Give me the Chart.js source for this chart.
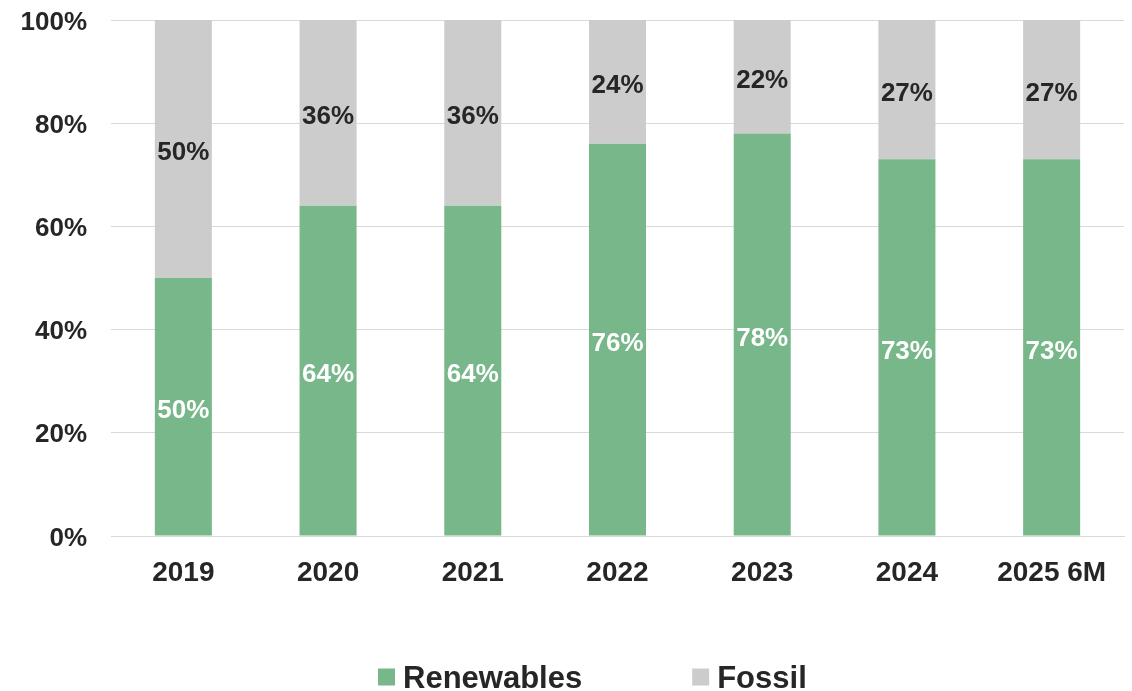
<!DOCTYPE html>
<html>
<head>
<meta charset="utf-8">
<script src="https://cdn.jsdelivr.net/npm/chart.js@4.4.1/dist/chart.umd.min.js"></script>
<style>
  html, body { margin: 0; padding: 0; background: #fff; }
  #wrap { width: 1132px; height: 691px; position: relative; }
</style>
</head>
<body>
<div id="wrap"><canvas id="shareChart"></canvas></div>
<script>
'use strict';

const years = ['2019', '2020', '2021', '2022', '2023', '2024', '2025 6M'];
const renewables = [50, 64, 64, 76, 78, 73, 73];
const fossil = [50, 36, 36, 24, 22, 27, 27];
const yTicks = [0, 20, 40, 60, 80, 100];

const FONT = "'Liberation Sans', Arial, sans-serif";
const TEXT = '#262626';
const GREEN = '#78b789';
const GREY = '#cccccc';

// value labels centred in each stacked segment
const segmentLabels = {
  id: 'segmentLabels',
  afterDatasetsDraw(chart) {
    const { ctx } = chart;
    ctx.save();
    ctx.font = `bold 26px ${FONT}`;
    ctx.textAlign = 'center';
    ctx.textBaseline = 'middle';
    chart.data.datasets.forEach((ds, i) => {
      const meta = chart.getDatasetMeta(i);
      ctx.fillStyle = ds.labelColor;
      meta.data.forEach((bar, j) => {
        const y = (bar.y + bar.base) / 2;
        ctx.fillText(`${ds.data[j]}%`, bar.x, y + 4);
      });
    });
    ctx.restore();
  }
};

// wide-spaced legend along the bottom
const bottomLegend = {
  id: 'bottomLegend',
  afterDraw(chart) {
    const { ctx } = chart;
    const box = 17;
    const gap = 110;
    const y = 677;
    let x = 378;
    ctx.save();
    ctx.font = `bold 31px ${FONT}`;
    ctx.textAlign = 'left';
    ctx.textBaseline = 'middle';
    chart.data.datasets.forEach((ds) => {
      ctx.fillStyle = ds.backgroundColor;
      ctx.fillRect(x, y - box / 2, box, box);
      x += box + 8;
      ctx.fillStyle = TEXT;
      ctx.fillText(ds.label, x, y + 2);
      x += ctx.measureText(ds.label).width + gap;
    });
    ctx.restore();
  }
};

// eslint-disable-next-line no-new
new Chart(document.getElementById('shareChart'), {
  type: 'bar',
  data: {
    labels: years,
    datasets: [{
      label: 'Renewables',
      data: renewables,
      backgroundColor: GREEN,
      labelColor: '#ffffff',
      categoryPercentage: 0.394,
      barPercentage: 1
    }, {
      label: 'Fossil',
      data: fossil,
      backgroundColor: GREY,
      labelColor: TEXT,
      categoryPercentage: 0.394,
      barPercentage: 1
    }]
  },
  options: {
    responsive: true,
    maintainAspectRatio: false,
    animation: false,
    layout: {
      padding: { top: 20, right: 8, bottom: 95, left: 0 }
    },
    plugins: {
      legend: { display: false },
      tooltip: { enabled: false }
    },
    scales: {
      x: {
        stacked: true,
        grid: { display: false },
        border: { display: true, color: '#d9d9d9', width: 1 },
        ticks: {
          color: TEXT,
          padding: 12,
          maxRotation: 0,
          font: { family: FONT, size: 28, weight: 'bold' }
        },
        afterFit(scale) {
          scale.height = 60;
          scale.paddingLeft = 0;
          scale.paddingRight = 0;
        }
      },
      y: {
        stacked: true,
        min: 0,
        max: 100,
        afterBuildTicks(scale) {
          scale.ticks = yTicks.map((v) => ({ value: v }));
        },
        grid: { color: '#d9d9d9', lineWidth: 1, drawTicks: false },
        border: { display: false },
        ticks: {
          color: TEXT,
          padding: 24,
          labelOffset: 2.5,
          font: { family: FONT, size: 26, weight: 'bold' },
          callback: (v) => `${v}%`
        },
        afterFit(scale) {
          scale.width = 111;
          scale.paddingTop = 0;
          scale.paddingBottom = 0;
        }
      }
    }
  },
  plugins: [segmentLabels, bottomLegend]
});
</script>
</body>
</html>
